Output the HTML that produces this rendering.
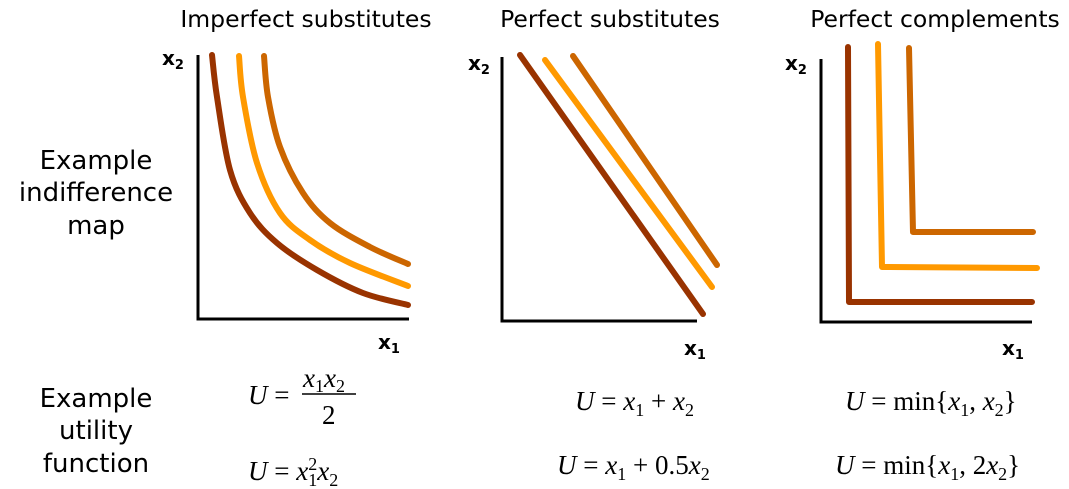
<!DOCTYPE html>
<html><head><meta charset="utf-8">
<style>
html,body{margin:0;padding:0;background:#fff;}
svg{display:block;}
.t{font-family:"DejaVu Sans","Liberation Sans",sans-serif;font-size:23.5px;fill:#000;}
.l{font-family:"DejaVu Sans","Liberation Sans",sans-serif;font-size:26px;fill:#000;}
.ax{font-family:"DejaVu Sans","Liberation Sans",sans-serif;font-weight:bold;font-size:20px;fill:#000;}
.f{font-family:"Liberation Serif",serif;font-style:italic;font-size:27px;fill:#000;}
.n{font-style:normal;}
</style></head>
<body>
<svg id="chart" width="1069" height="489" viewBox="0 0 1069 489" xmlns="http://www.w3.org/2000/svg">
<text class="t" x="306" y="27" text-anchor="middle">Imperfect substitutes</text>
<text class="t" x="610" y="27" text-anchor="middle">Perfect substitutes</text>
<text class="t" x="935" y="27" text-anchor="middle">Perfect complements</text>

<g>
<text class="l" x="96" y="169" text-anchor="middle">Example</text>
<text class="l" x="96" y="201" text-anchor="middle">indifference</text>
<text class="l" x="96" y="234" text-anchor="middle">map</text>
</g>
<g>
<text class="l" x="96" y="407" text-anchor="middle">Example</text>
<text class="l" x="96" y="439" text-anchor="middle">utility</text>
<text class="l" x="96" y="472" text-anchor="middle">function</text>
</g>

<g id="axes"></g>
<g id="curves"></g>

<g>
<text class="f" x="248" y="404">U <tspan class="n">=</tspan></text>
<text class="f" x="303" y="387">x<tspan font-size="18" dy="5" class="n">1</tspan><tspan dy="-5">x</tspan><tspan font-size="18" dy="5" class="n">2</tspan></text>
<line x1="302" y1="394" x2="356" y2="394" stroke="#000" stroke-width="1.5"/>
<text class="f n" x="322" y="424">2</text>
</g>
<g>
<text class="f" x="248" y="480">U <tspan class="n">=</tspan> x<tspan font-size="18" dy="6" class="n">1</tspan><tspan font-size="18" dy="-16" dx="-9" class="n">2</tspan><tspan dy="10">x</tspan><tspan font-size="18" dy="6" class="n">2</tspan></text>
</g>
<text class="f" x="575" y="410">U <tspan class="n">=</tspan> x<tspan font-size="18" dy="6" class="n">1</tspan><tspan dy="-6" class="n"> + </tspan>x<tspan font-size="18" dy="6" class="n">2</tspan></text>
<text class="f" x="557" y="474">U <tspan class="n">=</tspan> x<tspan font-size="18" dy="6" class="n">1</tspan><tspan dy="-6" class="n"> + 0.5</tspan>x<tspan font-size="18" dy="6" class="n">2</tspan></text>
<text class="f" x="845" y="410">U <tspan class="n">= min{</tspan>x<tspan font-size="18" dy="6" class="n">1</tspan><tspan dy="-6" class="n">, </tspan>x<tspan font-size="18" dy="6" class="n">2</tspan><tspan dy="-6" class="n">}</tspan></text>
<text class="f" x="835" y="474">U <tspan class="n">= min{</tspan>x<tspan font-size="18" dy="6" class="n">1</tspan><tspan dy="-6" class="n">, 2</tspan>x<tspan font-size="18" dy="6" class="n">2</tspan><tspan dy="-6" class="n">}</tspan></text>
</svg>
<script>
const panels = ["imperfect","perfect-sub","complements"];
const axisOrigins = [[198,319],[502,321],[821,322]];
const axisEnds = [[55,409],[57,697],[59,1032]];
const x2Labels = [[162,65],[468,70],[785,70]];
const x1Labels = [[378,349],[684,355],[1002,355]];
const colors = ["#993300","#ff9900","#cc6600"];
const imperfectDark = [[212,55],[217,97],[230,170],[250,213],[277,243],[317,270],[363,293],[408,305]];
const imperfectOrange = [[239,56],[243,97],[257,163],[280,213],[310,240],[350,263],[408,286]];
const imperfectMedium = [[264,56],[268,97],[280,147],[303,193],[330,223],[370,247],[408,264]];
const perfectDark = [[520,55],[703,314]];
const perfectOrange = [[545,60],[712,287]];
const perfectMedium = [[573,56],[717,265]];
const compDark = [[848,47],[849,302],[1032,302]];
const compOrange = [[878,44],[882,267],[1037,268]];
const compMedium = [[909,48],[913,232],[1033,232]];

const NS="http://www.w3.org/2000/svg";
const axesG=document.getElementById('axes');
const curvesG=document.getElementById('curves');
panels.forEach((p,i)=>{
  const [ox,oy]=axisOrigins[i];const [ty,rx]=axisEnds[i];
  const a=document.createElementNS(NS,'path');
  a.setAttribute('d',`M${ox},${ty} L${ox},${oy} L${rx},${oy}`);
  a.setAttribute('fill','none');a.setAttribute('stroke','#000');a.setAttribute('stroke-width','3');
  
  
  axesG.appendChild(a);
  const t2=document.createElementNS(NS,'text');
  t2.setAttribute('class','ax');t2.setAttribute('x',x2Labels[i][0]);t2.setAttribute('y',x2Labels[i][1]);
  t2.innerHTML='x<tspan font-size="13" dy="4">2</tspan>';
  
  
  axesG.appendChild(t2);
  const t1=document.createElementNS(NS,'text');
  t1.setAttribute('class','ax');t1.setAttribute('x',x1Labels[i][0]);t1.setAttribute('y',x1Labels[i][1]);
  t1.innerHTML='x<tspan font-size="13" dy="4">1</tspan>';
  
  
  axesG.appendChild(t1);
});
function smooth(pts){
  let d=`M${pts[0][0]},${pts[0][1]}`;
  for(let i=0;i<pts.length-1;i++){
    const p0=pts[i-1]||pts[i],p1=pts[i],p2=pts[i+1],p3=pts[i+2]||p2;
    const c1=[p1[0]+(p2[0]-p0[0])/6,p1[1]+(p2[1]-p0[1])/6];
    const c2=[p2[0]-(p3[0]-p1[0])/6,p2[1]-(p3[1]-p1[1])/6];
    d+=` C${c1[0]},${c1[1]} ${c2[0]},${c2[1]} ${p2[0]},${p2[1]}`;
  }
  return d;
}
function poly(pts){return 'M'+pts.map(p=>p.join(',')).join(' L');}
const series=[
  [imperfectDark,0,true,'curve-imperfect-low'],[imperfectOrange,1,true,'curve-imperfect-mid'],[imperfectMedium,2,true,'curve-imperfect-high'],
  [perfectDark,0,false,'line-perfect-sub-low'],[perfectOrange,1,false,'line-perfect-sub-mid'],[perfectMedium,2,false,'line-perfect-sub-high'],
  [compDark,0,false,'curve-complements-low'],[compOrange,1,false,'curve-complements-mid'],[compMedium,2,false,'curve-complements-high']
];
series.forEach(s=>{
  const el=document.createElementNS(NS,'path');
  el.setAttribute('d',s[2]?smooth(s[0]):poly(s[0]));
  el.setAttribute('fill','none');el.setAttribute('stroke',colors[s[1]]);
  el.setAttribute('stroke-width','6');el.setAttribute('stroke-linecap','round');el.setAttribute('stroke-linejoin','round');
  
  
  curvesG.appendChild(el);
});
</script>
</body></html>
